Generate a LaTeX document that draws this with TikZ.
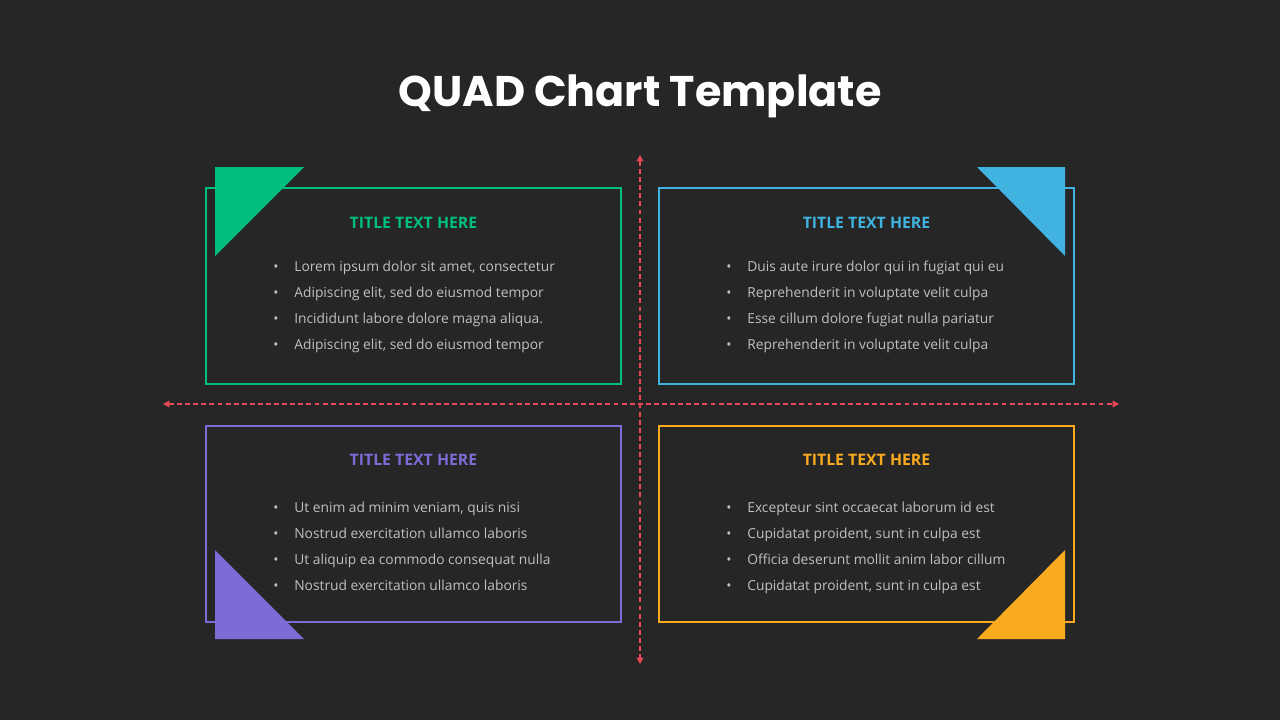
\documentclass[tikz,border=0pt]{standalone}
\usepackage{fontspec}
\setmainfont{Open Sans}
\newfontfamily\poppins{Poppins}
\usetikzlibrary{arrows.meta}

\definecolor{bgdark}{RGB}{38,38,38}
\definecolor{quadgreen}{RGB}{0,191,125}
\definecolor{quadblue}{RGB}{65,179,224}
\definecolor{quadpurple}{RGB}{124,108,214}
\definecolor{quadorange}{RGB}{250,170,30}
\definecolor{axisred}{RGB}{232,72,85}
\definecolor{bodygray}{RGB}{192,192,192}

\begin{document}
\begin{tikzpicture}[
    x=0.02cm, y=-0.02cm,
    quad/.style={rectangle, draw, line width=1.1pt, minimum width=8.3cm, minimum height=3.92cm, inner sep=0pt},
    heading/.style={font=\fontsize{9.0}{11}\selectfont\bfseries},
    body/.style={anchor=north west, inner sep=0pt, align=left, text=bodygray, font=\fontsize{7.85}{14.74}\selectfont},
    axis/.style={{Triangle[length=3.6pt, width=3.8pt]}-{Triangle[length=3.6pt, width=3.8pt]}, axisred, line width=0.6pt, dash pattern=on 2.8pt off 1.8pt}
]

% Background
\fill[bgdark] (0,0) rectangle (1280,720);
\useasboundingbox (0,0) rectangle (1280,720);

% Title
\node[text=white, font=\poppins\fontsize{24.4}{28}\selectfont\bfseries] (title) at (640,96) {QUAD Chart Template};

% Axes
\coordinate (vtop) at (640,155);
\coordinate (vbot) at (640,664);
\coordinate (hleft) at (163,404);
\coordinate (hright) at (1119,404);
\draw[axis] (vtop) -- (vbot);
\draw[axis] (hleft) -- (hright);

% Top left quadrant
\node[quad, draw=quadgreen] (tlbox) at (413.5,286) {};
\fill[quadgreen] (215,167) -- (304,167) -- (215,256) -- cycle;
\node[heading, text=quadgreen] (tltitle) at (413.5,223) {TITLE TEXT HERE};
\node[body] (tltext) at (273,261) {\textbullet\hspace{9pt}Lorem ipsum dolor sit amet, consectetur\\
\textbullet\hspace{9pt}Adipiscing elit, sed do eiusmod tempor\\
\textbullet\hspace{9pt}Incididunt labore dolore magna aliqua.\\
\textbullet\hspace{9pt}Adipiscing elit, sed do eiusmod tempor};

% Top right quadrant
\node[quad, draw=quadblue] (trbox) at (866.5,286) {};
\fill[quadblue] (977,167) -- (1065,167) -- (1065,256) -- cycle;
\node[heading, text=quadblue] (trtitle) at (866.5,223) {TITLE TEXT HERE};
\node[body] (trtext) at (726,261) {\textbullet\hspace{9pt}Duis aute irure dolor qui in fugiat qui eu\\
\textbullet\hspace{9pt}Reprehenderit in voluptate velit culpa\\
\textbullet\hspace{9pt}Esse cillum dolore fugiat nulla pariatur\\
\textbullet\hspace{9pt}Reprehenderit in voluptate velit culpa};

% Bottom left quadrant
\node[quad, draw=quadpurple] (blbox) at (413.5,524) {};
\fill[quadpurple] (215,550) -- (215,639) -- (304,639) -- cycle;
\node[heading, text=quadpurple] (bltitle) at (413.5,460) {TITLE TEXT HERE};
\node[body] (bltext) at (273,502) {\textbullet\hspace{9pt}Ut enim ad minim veniam, quis nisi\\
\textbullet\hspace{9pt}Nostrud exercitation ullamco laboris\\
\textbullet\hspace{9pt}Ut aliquip ea commodo consequat nulla\\
\textbullet\hspace{9pt}Nostrud exercitation ullamco laboris};

% Bottom right quadrant
\node[quad, draw=quadorange] (brbox) at (866.5,524) {};
\fill[quadorange] (1065,550) -- (1065,639) -- (977,639) -- cycle;
\node[heading, text=quadorange] (brtitle) at (866.5,460) {TITLE TEXT HERE};
\node[body] (brtext) at (726,502) {\textbullet\hspace{9pt}Excepteur sint occaecat laborum id est\\
\textbullet\hspace{9pt}Cupidatat proident, sunt in culpa est\\
\textbullet\hspace{9pt}Officia deserunt mollit anim labor cillum\\
\textbullet\hspace{9pt}Cupidatat proident, sunt in culpa est};

\end{tikzpicture}
\end{document}
